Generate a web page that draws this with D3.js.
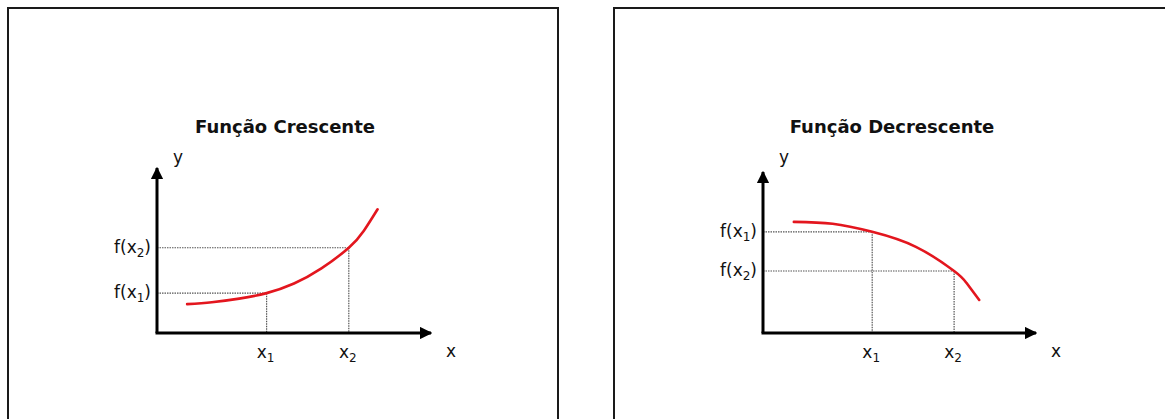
<!DOCTYPE html>
<html>
<head>
<meta charset="utf-8">
<script src="https://cdn.jsdelivr.net/npm/d3@7"></script>
<style>
  html, body { margin: 0; padding: 0; background: #fff; }
  svg { display: block; }
  text { font-family: "DejaVu Sans", sans-serif; fill: #111; }
</style>
</head>
<body>
<svg id="chart" width="1165" height="419"></svg>
<script>
// ---- data ----
const titles = ["Função Crescente", "Função Decrescente"];
// increasing curve (left panel)
const crescenteX = [1.1, 2.0, 3.0, 4.0, 5.0, 6.0, 7.0, 7.55, 8.05];
const crescenteY = [1.05, 1.12, 1.25, 1.45, 1.8, 2.35, 3.1, 3.72, 4.5];
// decreasing curve (right panel)
const decrescenteX = [1.13, 2.55, 4.0, 5.6, 7.0, 7.45, 7.92];
const decrescenteY = [4.14, 4.07, 3.77, 3.21, 2.31, 1.87, 1.23];
// marked points x1, x2 and their values
const markX = [4.0, 7.0];
const crescenteMarkY = [1.45, 3.1];
const decrescenteMarkY = [3.77, 2.31];
const markLabels = ["1", "2"];

// ---- layout ----
const svg = d3.select("#chart");
const panels = [
  { frame: [8, 558], title: titles[0], xs: crescenteX, ys: crescenteY, my: crescenteMarkY,
    xr: [157, 431], yr: [333, 168], tx: 285 },
  { frame: [614, 1175], title: titles[1], xs: decrescenteX, ys: decrescenteY, my: decrescenteMarkY,
    xr: [763, 1036], yr: [333, 172], tx: 892 }
];

const defs = svg.append("defs");
defs.append("marker")
  .attr("id", "arrow")
  .attr("viewBox", "0 0 10 10")
  .attr("refX", 9).attr("refY", 5)
  .attr("markerWidth", 4.2).attr("markerHeight", 4.2)
  .attr("markerUnits", "strokeWidth")
  .attr("orient", "auto")
  .append("path").attr("d", "M0,0 L10,5 L0,10 Z").attr("fill", "#000");

function subLabel(g, base, sub, close, x, y, anchor) {
  const t = g.append("text").attr("x", x).attr("y", y)
    .attr("text-anchor", anchor).style("font-size", "17px");
  t.append("tspan").text(base);
  t.append("tspan").text(sub).attr("dy", 4).style("font-size", "12px");
  if (close) t.append("tspan").text(close).attr("dy", -4);
  return t;
}

panels.forEach(p => {
  const g = svg.append("g");
  // frame
  g.append("rect")
    .attr("x", p.frame[0]).attr("y", 8)
    .attr("width", p.frame[1] - p.frame[0]).attr("height", 430)
    .attr("fill", "none").attr("stroke", "#1a1a1a").attr("stroke-width", 2);

  const x = d3.scaleLinear().domain([0, 10]).range(p.xr);
  const y = d3.scaleLinear().domain([0, 6]).range(p.yr);

  // title
  g.append("text")
    .attr("x", p.tx)
    .attr("y", 133)
    .attr("text-anchor", "middle")
    .style("font-size", "18px").style("font-weight", "bold")
    .text(p.title);

  // dotted guide lines
  const guide = g.append("g").attr("stroke", "#555").attr("stroke-width", 1.2)
    .attr("stroke-dasharray", "1.5,1");
  markX.forEach((mx, i) => {
    guide.append("line")
      .attr("x1", x(0)).attr("x2", x(mx))
      .attr("y1", y(p.my[i])).attr("y2", y(p.my[i]));
    guide.append("line")
      .attr("x1", x(mx)).attr("x2", x(mx))
      .attr("y1", y(p.my[i])).attr("y2", y(0));
  });

  // axes
  g.append("line")
    .attr("x1", x(0)).attr("y1", y(0)).attr("x2", x(0)).attr("y2", y(6))
    .attr("stroke", "#000").attr("stroke-width", 3).attr("marker-end", "url(#arrow)");
  g.append("line")
    .attr("x1", x(0) - 1.5).attr("y1", y(0)).attr("x2", x(10)).attr("y2", y(0))
    .attr("stroke", "#000").attr("stroke-width", 3).attr("marker-end", "url(#arrow)");

  // axis names
  g.append("text").attr("x", x(0) + 21).attr("y", 163)
    .attr("text-anchor", "middle").style("font-size", "17px").text("y");
  g.append("text").attr("x", x(10) + 20).attr("y", 357)
    .attr("text-anchor", "middle").style("font-size", "17px").text("x");

  // curve
  const pts = p.xs.map((v, i) => [v, p.ys[i]]);
  g.append("path")
    .datum(pts)
    .attr("fill", "none").attr("stroke", "#e3161e").attr("stroke-width", 2.6)
    .attr("stroke-linecap", "round")
    .attr("d", d3.line().x(d => x(d[0])).y(d => y(d[1])).curve(d3.curveNatural));

  // tick labels
  markX.forEach((mx, i) => {
    subLabel(g, "x", markLabels[i], null, x(mx) - 1, 358, "middle");
    subLabel(g, "f(x", markLabels[i], ")", x(0) - 6, y(p.my[i]) + 5, "end");
  });
});
</script>
</body>
</html>
